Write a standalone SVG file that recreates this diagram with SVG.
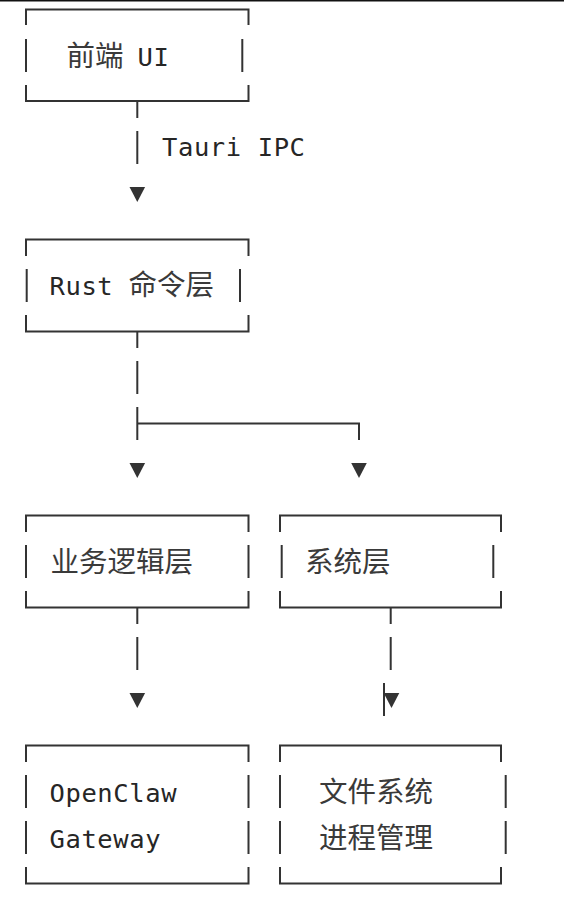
<svg xmlns="http://www.w3.org/2000/svg" width="564" height="900" viewBox="0 0 564 900">
<style>
.ln{fill:none;stroke:#333;stroke-width:2;stroke-linecap:butt}
.ar{fill:#333}
.m{font-family:"DejaVu Sans Mono","Liberation Mono",monospace;font-size:25.5px;letter-spacing:0.6px;fill:#262626}
.c{font-family:"Noto Sans CJK SC","Noto Sans",sans-serif;font-size:28.5px;letter-spacing:0;fill:#3a3a3a}
</style>
<defs>
<polygon id="tri" points="-7.8,-6.5 7.8,-6.5 0,8.5"/>
</defs>
<rect x="0" y="0" width="564" height="1.5" fill="#111"/>

<g id="node-frontend">
<path class="ln" d="M26,25 V9.5 H248.5 V25 M26,39 V72 M242.3,39 V72 M26,85 V101 H248.5 V85"/>
<text y="65.5"><tspan class="c" x="66.5">前端 </tspan><tspan class="m" x="137.5">UI</tspan></text>
</g>

<g id="node-rust">
<path class="ln" d="M26,256 V239.5 H248.5 V256 M26.7,269 V302 M240,269 V302 M26,315 V331.5 H248.5 V315"/>
<text y="295"><tspan class="m" x="49.5">Rust </tspan><tspan class="c" x="128.5">命令层</tspan></text>
</g>

<g id="node-logic">
<path class="ln" d="M26,532 V515.5 H248.5 V532 M26,545 V578 M248.5,545 V578 M26,591 V607.5 H248.5 V591"/>
<text class="c" x="50.5" y="571.5">业务逻辑层</text>
</g>

<g id="node-system">
<path class="ln" d="M280,532 V515.5 H501 V532 M281.7,545 V578 M493.3,545 V578 M280,591 V607.5 H501 V591"/>
<text class="c" x="305" y="571.5">系统层</text>
</g>

<g id="node-gateway">
<path class="ln" d="M26,762 V745.5 H248.5 V762 M26,775 V808 M248.5,775 V808 M26,821 V854 M248.5,821 V854 M26,867 V883.5 H248.5 V867"/>
<text class="m" x="49.5" y="801.5">OpenClaw</text>
<text class="m" x="49.5" y="847.5">Gateway</text>
</g>

<g id="node-fs">
<path class="ln" d="M280,762 V745.5 H501 V762 M280,775 V808 M505.7,775 V808 M280,821 V854 M505.7,821 V854 M280,867 V883.5 H501 V867"/>
<text class="c" x="319" y="802">文件系统</text>
<text class="c" x="319" y="848">进程管理</text>
</g>

<g id="connectors">
<path class="ln" d="M137.3,101 V118 M137.3,131 V164"/>
<use href="#tri" class="ar" x="137.3" y="193.5"/>
<text class="m" x="162" y="156">Tauri IPC</text>

<path class="ln" d="M137.3,331 V348 M137.3,361 V394 M137.3,407 V440 M137.3,423.5 H359 V440"/>
<use href="#tri" class="ar" x="137.3" y="469.5"/>
<use href="#tri" class="ar" x="359" y="469.5"/>

<path class="ln" d="M137.3,607 V624 M137.3,637 V670"/>
<use href="#tri" class="ar" x="137.3" y="699.5"/>

<path class="ln" d="M390.7,607 V624 M390.7,637 V670 M384,683 V716"/>
<use href="#tri" class="ar" x="391.5" y="699.5"/>
</g>
</svg>
